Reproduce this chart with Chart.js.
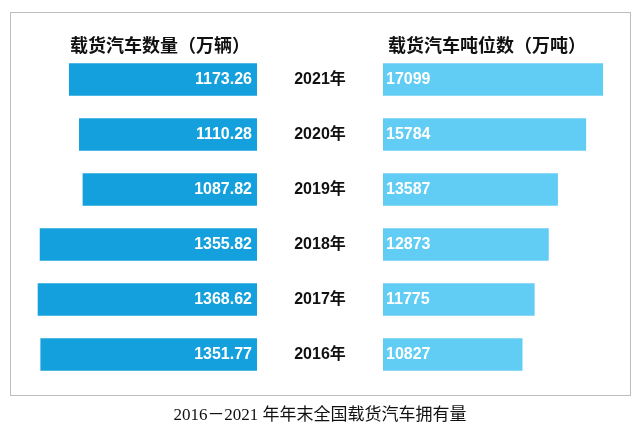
<!DOCTYPE html>
<html><head><meta charset="utf-8">
<style>
body{margin:0;width:640px;height:434px;background:#fff;position:relative;overflow:hidden}
#frame{position:absolute;left:10px;top:12px;width:619px;height:382px;border:1px solid #bdbdbd}
canvas{position:absolute;left:0;top:0}
#title{position:absolute;left:0;width:640px;top:400px;text-align:center;font:17px "Liberation Serif","Noto Sans CJK SC",serif;color:#111}
</style></head><body>
<div id="frame"></div>
<div style="position:absolute;left:0;top:0;width:640px;height:434px"><canvas id="left"></canvas></div>
<div style="position:absolute;left:0;top:0;width:640px;height:434px"><canvas id="right"></canvas></div>
<div id="title">2016－2021 年年末全国载货汽车拥有量</div>
<script src="https://cdn.jsdelivr.net/npm/chart.js"></script>
<script>
const years = ['2021年','2020年','2019年','2018年','2017年','2016年'];
const vehicles = [1173.26, 1110.28, 1087.82, 1355.82, 1368.62, 1351.77];
const tonnage = [17099, 15784, 13587, 12873, 11775, 10827];
const leftTitle = '载货汽车数量（万辆）';
const rightTitle = '载货汽车吨位数（万吨）';
const boldFont = 'bold 16px "Liberation Sans", "Noto Sans CJK SC", sans-serif';

function labelsPlugin(side) {
  return {
    id: 'labels' + side,
    afterDatasetsDraw(chart) {
      const c = chart.ctx;
      const meta = chart.getDatasetMeta(0);
      c.save();
      c.font = boldFont;
      c.textBaseline = 'middle';
      meta.data.forEach((bar, i) => {
        const v = chart.data.datasets[0].data[i];
        c.fillStyle = '#fff';
        if (side === 'L') {
          c.textAlign = 'right';
          c.fillText(v.toFixed(2), bar.base - 5, bar.y);
          c.fillStyle = '#111';
          c.textAlign = 'center';
          c.fillText(years[i], 320, bar.y);
        } else {
          c.textAlign = 'left';
          c.fillText(String(v), bar.base + 3, bar.y);
        }
      });
      c.font = 'bold 18px "Noto Sans CJK SC", sans-serif';
      c.fillStyle = '#111';
      c.textAlign = 'center';
      if (side === 'L') c.fillText(leftTitle, 160, 45);
      else c.fillText(rightTitle, 487, 45);
      c.restore();
    }
  };
}

function makeChart(id, data, color, max, reverse, pad, side) {
  return new Chart(document.getElementById(id), {
    type: 'bar',
    data: { labels: years, datasets: [{ data: data, backgroundColor: color, barThickness: 32 }] },
    options: {
      indexAxis: 'y',
      responsive: true,
      maintainAspectRatio: false,
      animation: false,
      layout: { padding: pad },
      plugins: { legend: { display: false }, tooltip: { enabled: false } },
      scales: {
        x: { display: false, min: 0, max: max, reverse: reverse },
        y: { display: false }
      }
    },
    plugins: [labelsPlugin(side)]
  });
}

makeChart('left', vehicles, '#14a0dc', 1600, true, { left: 1, right: 383, top: 52, bottom: 52 }, 'L');
makeChart('right', tonnage, '#62cdf4', 20000, false, { left: 383, right: 0, top: 52, bottom: 52 }, 'R');
</script>
</body></html>
